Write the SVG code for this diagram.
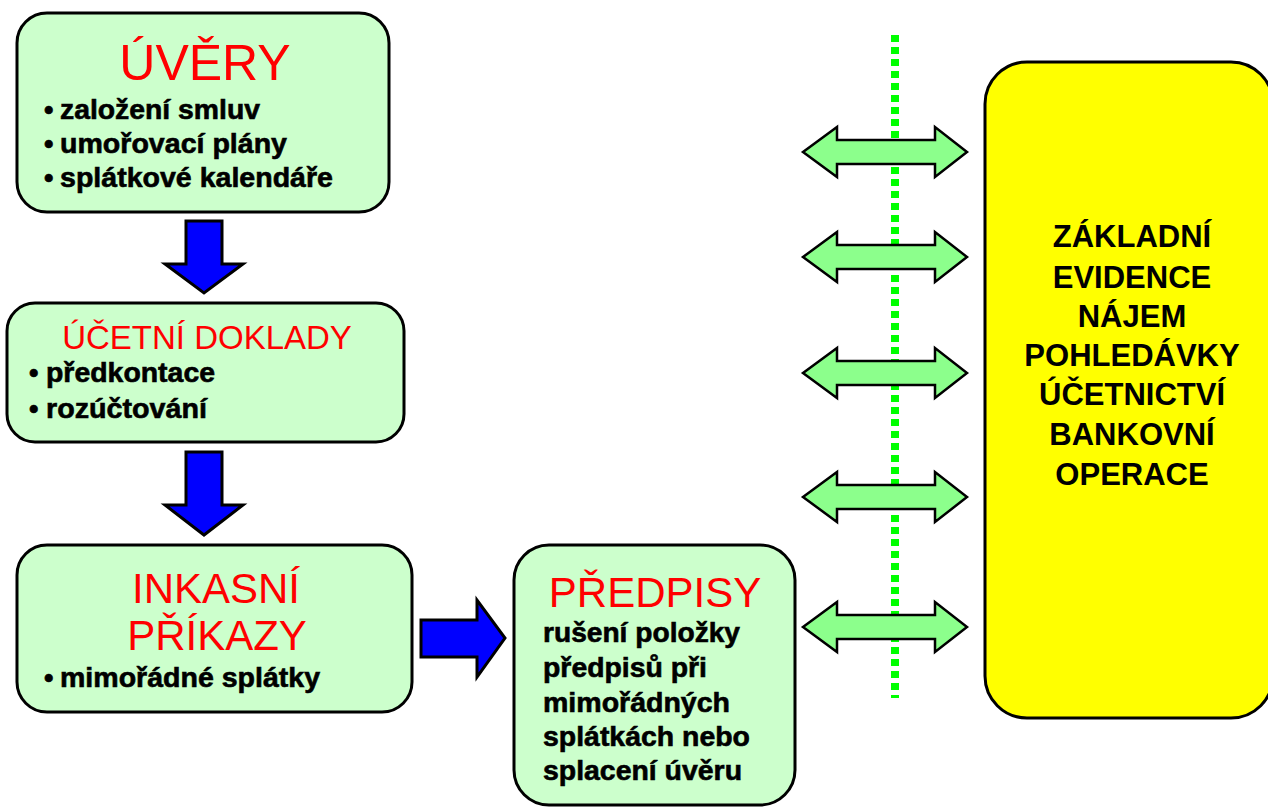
<svg xmlns="http://www.w3.org/2000/svg" width="1268" height="807" viewBox="0 0 1268 807">
<defs>
<style>
.box{fill:#CCFFCC;stroke:#000;stroke-width:3}
.ybox{fill:#FFFF00;stroke:#000;stroke-width:3}
.title{font-family:"Liberation Sans",Arial,sans-serif;fill:#FF0000;text-anchor:middle}
.body{font-family:"Liberation Sans",Arial,sans-serif;font-weight:bold;font-size:27px;fill:#000;stroke:#000;stroke-width:0.6}
.ytext{font-family:"Liberation Sans",Arial,sans-serif;font-weight:bold;font-size:31px;fill:#000;text-anchor:middle}
.blue{fill:#0000FF;stroke:#000;stroke-width:3;stroke-linejoin:miter}
.dbl{fill:#8CFF8C;stroke:#000;stroke-width:2.5;stroke-linejoin:miter}
.dots{stroke:#00FF00;stroke-width:8;stroke-dasharray:7 5;fill:none}
</style>
<path id="dblarrow" d="M803,0 L837,-25 L837,-12 L935,-12 L935,-25 L967,0 L935,25 L935,12 L837,12 L837,25 Z"/>
</defs>
<rect width="1268" height="807" fill="#FFFFFF"/>

<g id="connectors">
<path class="blue" d="M186,221 L222,221 L222,264 L243,264 L204,293 L165,264 L186,264 Z"/>
<path class="blue" d="M186,452 L222,452 L222,505 L243,505 L204,535 L165,505 L186,505 Z"/>
<path class="blue" d="M421,620 L477,620 L477,600 L505,638 L477,677 L477,657 L421,657 Z"/>
<line class="dots" x1="895" y1="35" x2="895" y2="698"/>
<use href="#dblarrow" class="dbl" transform="translate(0,152)"/>
<use href="#dblarrow" class="dbl" transform="translate(0,257)"/>
<use href="#dblarrow" class="dbl" transform="translate(0,373)"/>
<use href="#dblarrow" class="dbl" transform="translate(0,497)"/>
<use href="#dblarrow" class="dbl" transform="translate(0,627)"/>
</g>

<g id="uvery">
<rect class="box" x="17" y="13" width="372" height="199" rx="30"/>
<text class="title" x="205" y="80" font-size="50">ÚVĚRY</text>
<text class="body" x="44" y="119">•</text>
<text class="body" x="60" y="119" textLength="200" lengthAdjust="spacingAndGlyphs">založení smluv</text>
<text class="body" x="44" y="153">•</text>
<text class="body" x="60" y="153" textLength="227" lengthAdjust="spacingAndGlyphs">umořovací plány</text>
<text class="body" x="44" y="187">•</text>
<text class="body" x="60" y="187" textLength="273" lengthAdjust="spacingAndGlyphs">splátkové kalendáře</text>
</g>

<g id="ucetni-doklady">
<rect class="box" x="7" y="303" width="397" height="139" rx="28"/>
<text class="title" x="207" y="349" font-size="33">ÚČETNÍ DOKLADY</text>
<text class="body" x="29" y="382">•</text>
<text class="body" x="46" y="382" textLength="169" lengthAdjust="spacingAndGlyphs">předkontace</text>
<text class="body" x="29" y="418">•</text>
<text class="body" x="46" y="418" textLength="161" lengthAdjust="spacingAndGlyphs">rozúčtování</text>
</g>

<g id="inkasni-prikazy">
<rect class="box" x="17" y="545" width="395" height="167" rx="30"/>
<text class="title" x="216" y="603" font-size="42">INKASNÍ</text>
<text class="title" x="217" y="650" font-size="42">PŘÍKAZY</text>
<text class="body" x="44" y="687">•</text>
<text class="body" x="60" y="687" textLength="260" lengthAdjust="spacingAndGlyphs">mimořádné splátky</text>
</g>

<g id="predpisy">
<rect class="box" x="514" y="545" width="281" height="260" rx="35"/>
<text class="title" x="655" y="607" font-size="42">PŘEDPISY</text>
<text class="body" x="543" y="642" textLength="197" lengthAdjust="spacingAndGlyphs">rušení položky</text>
<text class="body" x="543" y="677" textLength="164" lengthAdjust="spacingAndGlyphs">předpisů při</text>
<text class="body" x="543" y="712" textLength="187" lengthAdjust="spacingAndGlyphs">mimořádných</text>
<text class="body" x="543" y="746" textLength="207" lengthAdjust="spacingAndGlyphs">splátkách nebo</text>
<text class="body" x="543" y="780" textLength="199" lengthAdjust="spacingAndGlyphs">splacení úvěru</text>
</g>

<g id="zakladni-evidence">
<rect class="ybox" x="985" y="62" width="288" height="656" rx="42"/>
<text class="ytext" x="1132" y="247">ZÁKLADNÍ</text>
<text class="ytext" x="1132" y="288">EVIDENCE</text>
<text class="ytext" x="1132" y="327">NÁJEM</text>
<text class="ytext" x="1132" y="366">POHLEDÁVKY</text>
<text class="ytext" x="1132" y="405">ÚČETNICTVÍ</text>
<text class="ytext" x="1132" y="445">BANKOVNÍ</text>
<text class="ytext" x="1132" y="485">OPERACE</text>
</g>
</svg>
